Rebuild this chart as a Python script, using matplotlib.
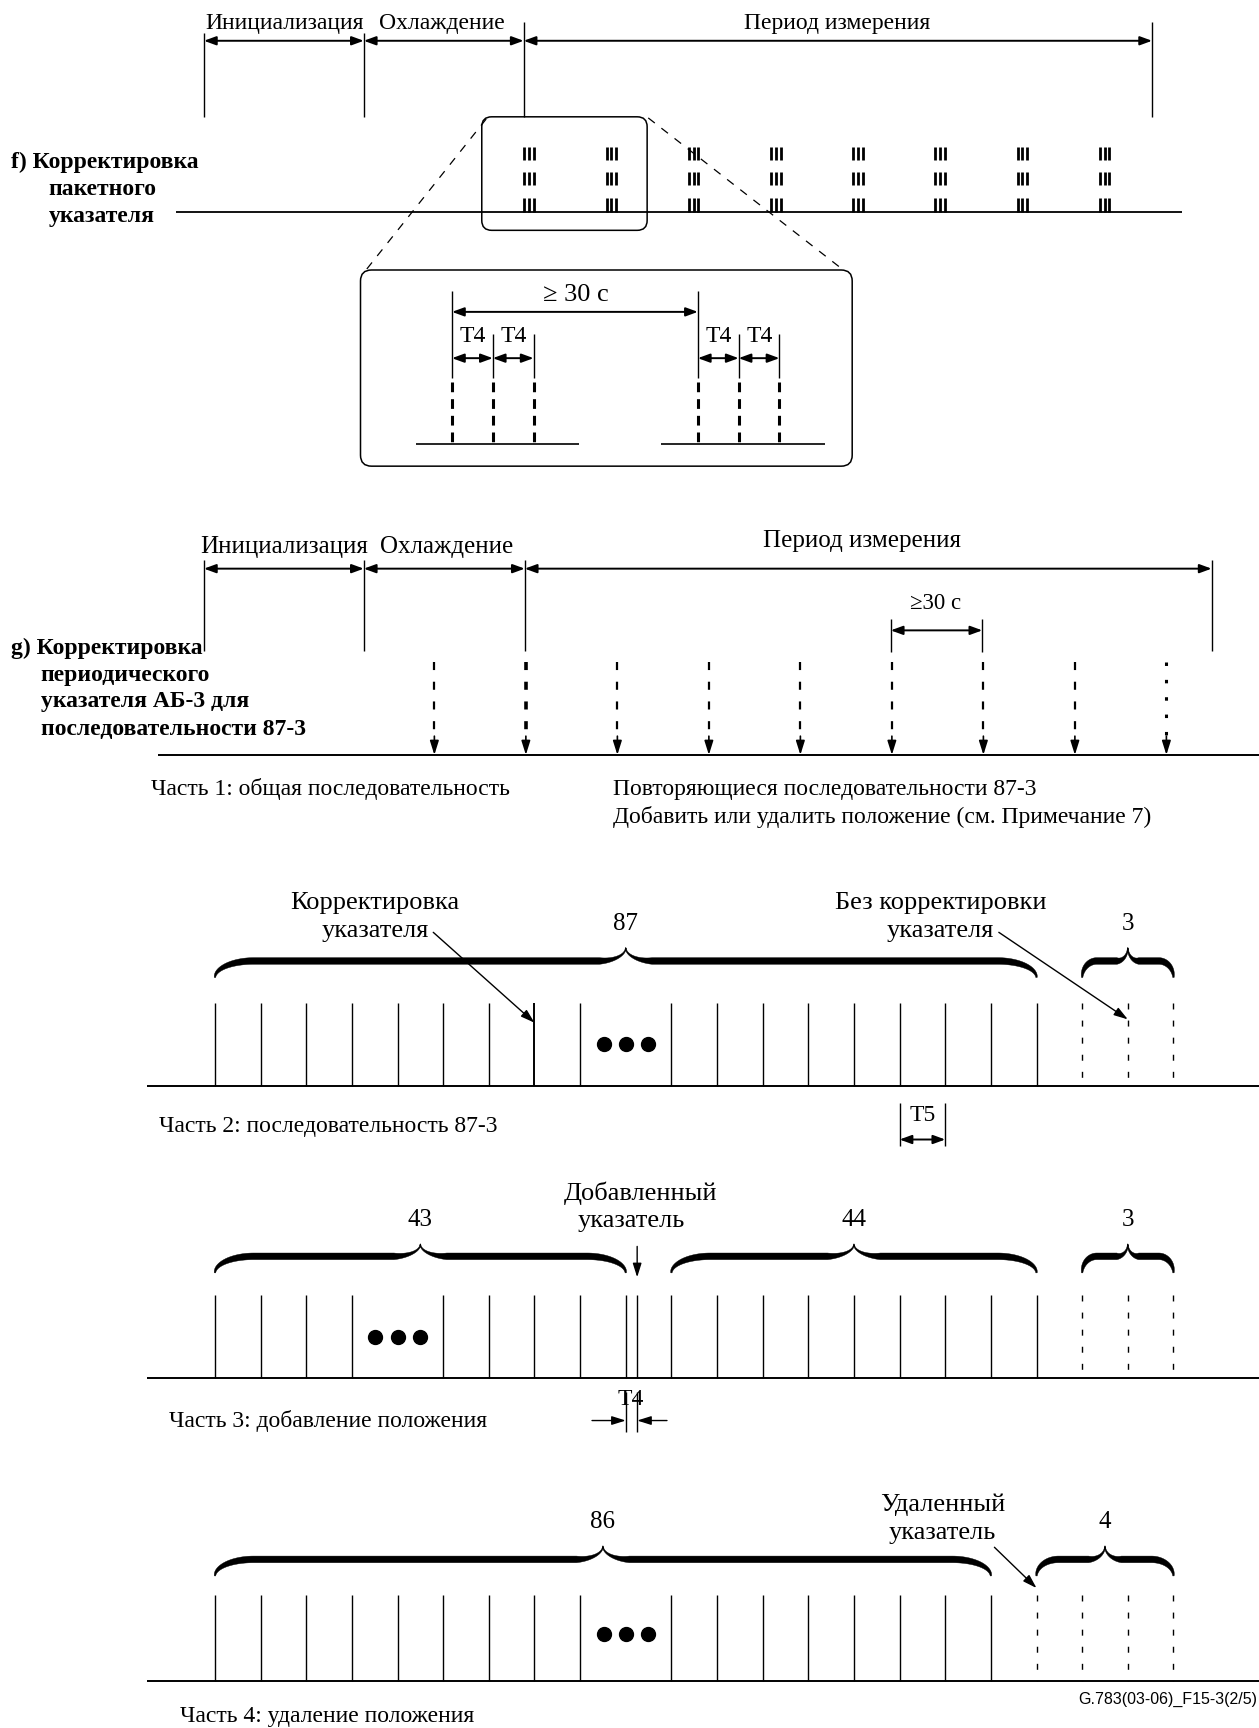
import numpy as np
import matplotlib.pyplot as plt
from matplotlib.patches import FancyBboxPatch, Polygon

plt.rcParams['lines.scale_dashes'] = False
SERIF = 'Liberation Serif'

# --- данные схемы ---
phase_labels = ['Инициализация', 'Охлаждение', 'Период измерения']
n_bursts = 8          # пачки корректировок, вариант f)
burst_size = 3        # корректировок в пачке
n_periodic = 9        # периодические корректировки, вариант g)
f_title = ['f) Корректировка', 'пакетного', 'указателя']
g_title = ['g) Корректировка', 'периодического', 'указателя АБ-3 для', 'последовательности 87-3']
part_titles = ['Часть 1: общая последовательность',
               'Часть 2: последовательность 87-3',
               'Часть 3: добавление положения',
               'Часть 4: удаление положения']
part1_notes = ['Повторяющиеся последовательности 87-3',
               'Добавить или удалить положение (см. Примечание 7)']
# номера позиций: сплошные, пропуск (точки), пунктир
part2_solid = list(range(0, 9)) + list(range(10, 19))
part2_dots = 9
part2_dashed = [19, 20, 21]
part2_braces = [('87', 0, 18), ('3', 19, 21)]
part3_solid = list(range(0, 4)) + list(range(5, 19))
part3_added = 9.25
part3_dots = 4
part3_dashed = [19, 20, 21]
part3_braces = [('43', 0, 9), ('44', 10, 18), ('3', 19, 21)]
part4_solid = list(range(0, 9)) + list(range(10, 18))
part4_dots = 9
part4_dashed = [18, 19, 20, 21]
part4_braces = [('86', 0, 17), ('4', 18, 21)]
fig_id = 'G.783(03-06)_F15-3(2/5)'

fig = plt.figure(figsize=(12.59, 17.28), dpi=100)
ax = fig.add_axes([0, 0, 1, 1])
ax.set_xlim(0, 1142)
ax.set_ylim(1568, 0)
ax.axis('off')

X0, DX = 195, 41.4


def sx(i):
    return X0 + DX * i


def txt(x, y, s, size=17, ha='center', **kw):
    ax.text(x, y, s, fontsize=size, ha=ha, va='center', family=SERIF, **kw)


def vline(x, y0, y1, lw=1.0, ls='-'):
    ax.plot([x, x], [y0, y1], color='k', lw=lw, ls=ls, solid_capstyle='butt', dash_capstyle='butt')


def hline(x0, x1, y, lw=1.5):
    ax.plot([x0, x1], [y, y], color='k', lw=lw, solid_capstyle='butt')


def dim(x0, x1, y, lw=1.4):
    ax.annotate('', xy=(x1, y), xytext=(x0, y),
                arrowprops=dict(arrowstyle='<|-|>,head_length=0.6,head_width=0.22', lw=lw,
                                color='k', shrinkA=0, shrinkB=0, mutation_scale=12))


def pointer(x0, y0, x1, y1, lw=1.0):
    ax.annotate('', xy=(x1, y1), xytext=(x0, y0),
                arrowprops=dict(arrowstyle='-|>,head_length=0.7,head_width=0.22', lw=lw,
                                color='k', shrinkA=0, shrinkB=0, mutation_scale=12))


def brace(xa, xb, y_end, y_flat, y_tip, thick=6.0):
    xm = (xa + xb) / 2
    width = xb - xa
    r_end = min(35.0, 0.16 * width)
    r_tip = min(24.0, 0.12 * width)
    th = np.linspace(0, np.pi / 2, 30)
    ax_ = xa + r_end * (1 - np.cos(th))
    ay_ = y_end - (y_end - y_flat) * np.sin(th)
    wa = 0.2 + 0.8 * np.sin(th)
    bx = np.linspace(xa + r_end, xm - r_tip, 30)[1:-1]
    by = np.full_like(bx, y_flat)
    wb = np.ones_like(bx)
    cx = xm - r_tip + r_tip * np.sin(th)
    cy = y_flat - (y_flat - y_tip) * (1 - np.cos(th))
    wc = 1 - 0.85 * np.sin(th)
    lx = np.concatenate([ax_, bx, cx])
    ly = np.concatenate([ay_, by, cy])
    lw_ = np.concatenate([wa, wb, wc])
    x = np.concatenate([lx, (2 * xm - lx)[::-1][1:]])
    y = np.concatenate([ly, ly[::-1][1:]])
    w = np.concatenate([lw_, lw_[::-1][1:]]) * thick
    tx, ty = np.gradient(x), np.gradient(y)
    n = np.hypot(tx, ty) + 1e-9
    nx, ny = -ty / n, tx / n
    top = np.column_stack([x + nx * w / 2, y + ny * w / 2])
    bot = np.column_stack([x - nx * w / 2, y - ny * w / 2])
    ax.add_patch(Polygon(np.vstack([top, bot[::-1]]), closed=True, fc='k', ec='k', lw=0.3))


def dots(x, y):
    ax.plot([x - 20, x, x + 20], [y, y, y], 'o', color='k', ms=10, mec='k')


# ================= f) пакетная корректировка =================
f_bounds = [185, 330, 475, 1045]
for i, lab in enumerate(phase_labels):
    dim(f_bounds[i], f_bounds[i + 1], 37)
    txt([258, 401, 759][i], 21, lab, size=17)
vline(185, 30, 106)
vline(330, 30, 106)
vline(475, 20, 106)
vline(1045, 20, 106)

hline(160, 1072, 192, lw=1.3)
burst_x = np.linspace(480, 1002, n_bursts)
for xg in burst_x:
    for y0, y1 in [(133, 145), (156, 168), (180, 192)]:
        for k in range(burst_size):
            vline(xg + (k - 1) * 4.3, y0, y1, lw=2.0)

for i, s in enumerate(f_title):
    ax.text(10 if i == 0 else 44, 147 + 24.5 * i, s, fontsize=17, fontweight='bold',
            ha='left', va='center', family=SERIF)

ax.add_patch(FancyBboxPatch((437, 106), 150, 103, boxstyle='round,pad=0,rounding_size=9',
                            fc='none', ec='k', lw=1.1))
ax.plot([441, 332], [108, 245], color='k', lw=0.9, ls=(0, (6, 6)))
ax.plot([588, 765], [107, 245], color='k', lw=0.9, ls=(0, (6, 6)))
ax.add_patch(FancyBboxPatch((327, 245), 446, 178, boxstyle='round,pad=0,rounding_size=10',
                            fc='none', ec='k', lw=1.1))

# увеличенный фрагмент
for xs, x_end in [(410, 377), (633, 600)]:
    pos = [xs, xs + 37, xs + 74]
    hline(x_end, x_end + 148, 403, lw=1.2)
    vline(pos[0], 264, 343)
    vline(pos[1], 303, 343)
    vline(pos[2], 303, 343)
    for p in pos:
        vline(p, 347, 403, lw=2.2, ls=(0, (7, 5)))
    dim(pos[0], pos[1], 325)
    dim(pos[1], pos[2], 325)
    txt(pos[0] + 19, 305, 'T4', size=17)
    txt(pos[1] + 19, 305, 'T4', size=17)
dim(410, 633, 283)
txt(522, 268, '≥ 30 с', size=19)

# ================= g) периодическая корректировка =================
g_bounds = [185, 330, 476, 1099]
for i, lab in enumerate(phase_labels):
    dim(g_bounds[i], g_bounds[i + 1], 516)
    ypos = 496 if i < 2 else 491
    xpos = [258, 405, 782][i]
    txt(xpos, ypos, lab, size=18)
for xb in g_bounds:
    vline(xb, 508, 591)

for i, s in enumerate(g_title):
    ax.text(10 if i == 0 else 37, 588 + 24.5 * i, s, fontsize=17, fontweight='bold',
            ha='left', va='center', family=SERIF)

hline(143, 1142, 685, lw=1.4)
for k in range(n_periodic):
    x = 394 + 83.0 * k
    if k == n_periodic - 1:
        vline(x, 601, 672, lw=2.2, ls=(0, (2.5, 10)))
    else:
        vline(x, 601, 674, lw=2.6 if k == 1 else 1.6, ls=(0, (5.8, 8.4)))
    pointer(x, 668, x, 685, lw=1.2)

vline(808, 562, 592)
vline(891, 562, 592)
dim(808, 891, 572)
txt(849, 548, '≥30 с', size=16.5)

txt(137, 716, part_titles[0], size=17, ha='left')
txt(556, 716, part1_notes[0], size=17, ha='left')
txt(556, 741, part1_notes[1], size=17, ha='left')

# ================= Часть 2 =================
y_top, y_base = 910, 985
hline(133, 1142, y_base, lw=1.4)
for i in part2_solid:
    vline(sx(i), y_top, y_base, lw=1.0 if i != 7 else 1.4)
for i in part2_dashed:
    vline(sx(i), y_top, y_base, lw=1.0, ls=(0, (4.3, 8)))
dots(sx(part2_dots), 947)
for lab, a, b in part2_braces:
    brace(sx(a), sx(b), 887, 872, 860)
    txt((sx(a) + sx(b)) / 2, 838, lab, size=18)
txt(340, 819, 'Корректировка', size=19)
txt(340, 845, 'указателя', size=19)
pointer(393, 846, sx(7), 928)
txt(853, 819, 'Без корректировки', size=19)
txt(853, 845, 'указателя', size=19)
pointer(906, 846, sx(20), 925)
txt(144, 1022, part_titles[1], size=17, ha='left')
vline(sx(15), 1001, 1040)
vline(sx(16), 1001, 1040)
dim(sx(15), sx(16), 1034)
txt((sx(15) + sx(16)) / 2, 1012, 'T5', size=17)

# ================= Часть 3 =================
y_top, y_base = 1175, 1250
hline(133, 1142, y_base, lw=1.4)
for i in part3_solid:
    vline(sx(i), y_top, y_base)
vline(sx(part3_added), y_top, y_base)
for i in part3_dashed:
    vline(sx(i), y_top, y_base, lw=1.0, ls=(0, (4.3, 8)))
dots(sx(part3_dots), 1213)
for lab, a, b in part3_braces:
    brace(sx(a), sx(b), 1155, 1140, 1129)
    txt((sx(a) + sx(b)) / 2, 1107, lab, size=18)
txt(581, 1083, 'Добавленный', size=19)
txt(573, 1108, 'указатель', size=19)
pointer(sx(part3_added), 1131, sx(part3_added), 1159)
vline(sx(9), 1263, 1299)
vline(sx(part3_added), 1263, 1299)
pointer(537, 1289, sx(9), 1289)
pointer(605, 1289, sx(part3_added), 1289)
txt(572, 1270, 'T4', size=17)
txt(153, 1289, part_titles[2], size=17, ha='left')

# ================= Часть 4 =================
y_top, y_base = 1447, 1525
hline(133, 1142, y_base, lw=1.4)
for i in part4_solid:
    vline(sx(i), y_top, y_base)
for i in part4_dashed:
    vline(sx(i), y_top, y_base, lw=1.0, ls=(0, (4.3, 8)))
dots(sx(part4_dots), 1483)
for lab, a, b in part4_braces:
    brace(sx(a), sx(b), 1430, 1415, 1403)
    txt((sx(a) + sx(b)) / 2, 1381, lab, size=18)
txt(855, 1365, 'Удаленный', size=19)
txt(855, 1391, 'указатель', size=19)
pointer(902, 1404, sx(18), 1441)
ax.text(1140, 1542, fig_id, fontsize=11.5, ha='right', va='center', family='Liberation Sans')
txt(163, 1558, part_titles[3], size=17, ha='left')

fig.savefig('out.png', dpi=100)
